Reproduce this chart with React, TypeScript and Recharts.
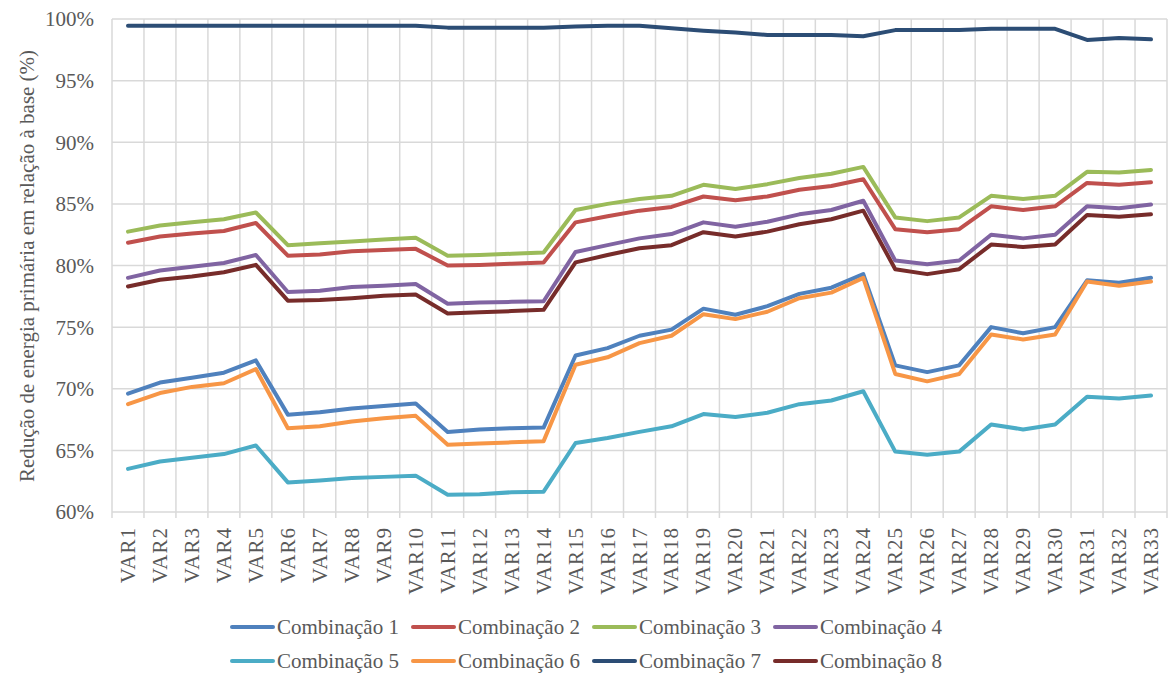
import React from 'react';
import { LineChart, Line, XAxis, YAxis, CartesianGrid, Legend } from 'recharts';

const categories = Array.from({ length: 33 }, (_, i) => `VAR${i + 1}`);

const comb1 = [69.6, 70.5, 70.9, 71.3, 72.3, 67.9, 68.1, 68.4, 68.6, 68.8, 66.5, 66.7, 66.8, 66.85, 72.7, 73.3, 74.3, 74.8, 76.5, 76.0, 76.7, 77.7, 78.2, 79.3, 71.9, 71.35, 71.9, 75.0, 74.5, 75.0, 78.8, 78.6, 79.0];
const comb2 = [81.85, 82.35, 82.6, 82.8, 83.45, 80.8, 80.9, 81.15, 81.25, 81.35, 80.0, 80.05, 80.15, 80.25, 83.5, 84.0, 84.45, 84.75, 85.6, 85.3, 85.6, 86.15, 86.45, 87.0, 82.95, 82.7, 82.95, 84.8, 84.5, 84.8, 86.7, 86.55, 86.75];
const comb3 = [82.75, 83.25, 83.5, 83.75, 84.3, 81.65, 81.8, 81.95, 82.1, 82.25, 80.8, 80.85, 80.95, 81.05, 84.5, 85.0, 85.4, 85.65, 86.55, 86.2, 86.6, 87.1, 87.45, 88.0, 83.9, 83.6, 83.9, 85.65, 85.4, 85.65, 87.6, 87.55, 87.75];
const comb4 = [79.0, 79.6, 79.9, 80.2, 80.85, 77.85, 77.95, 78.25, 78.35, 78.5, 76.9, 77.0, 77.05, 77.1, 81.1, 81.65, 82.2, 82.55, 83.5, 83.15, 83.55, 84.15, 84.5, 85.25, 80.4, 80.1, 80.4, 82.5, 82.2, 82.5, 84.8, 84.65, 84.95];
const comb5 = [63.5, 64.1, 64.4, 64.7, 65.4, 62.4, 62.55, 62.75, 62.85, 62.95, 61.4, 61.45, 61.6, 61.65, 65.6, 66.0, 66.5, 66.95, 67.95, 67.7, 68.05, 68.75, 69.05, 69.8, 64.9, 64.65, 64.9, 67.1, 66.7, 67.1, 69.35, 69.2, 69.45];
const comb6 = [68.75, 69.65, 70.15, 70.45, 71.6, 66.8, 66.95, 67.35, 67.6, 67.8, 65.45, 65.55, 65.65, 65.75, 71.95, 72.55, 73.7, 74.3, 76.05, 75.65, 76.25, 77.35, 77.8, 79.0, 71.2, 70.6, 71.2, 74.4, 74.0, 74.4, 78.7, 78.35, 78.7];
const comb7 = [99.45, 99.45, 99.45, 99.45, 99.45, 99.45, 99.45, 99.45, 99.45, 99.45, 99.3, 99.3, 99.3, 99.3, 99.4, 99.45, 99.45, 99.25, 99.05, 98.9, 98.7, 98.7, 98.7, 98.6, 99.1, 99.1, 99.1, 99.2, 99.2, 99.2, 98.3, 98.45, 98.35];
const comb8 = [78.3, 78.85, 79.1, 79.45, 80.05, 77.15, 77.2, 77.35, 77.55, 77.65, 76.1, 76.2, 76.3, 76.4, 80.25, 80.85, 81.4, 81.65, 82.7, 82.35, 82.75, 83.35, 83.75, 84.45, 79.7, 79.3, 79.7, 81.7, 81.5, 81.7, 84.1, 83.95, 84.15];

const yTicks = [60, 65, 70, 75, 80, 85, 90, 95, 100];

const series = [
  { key: 'c1', name: 'Combinação 1', values: comb1, color: '#4F81BD' },
  { key: 'c2', name: 'Combinação 2', values: comb2, color: '#C0504D' },
  { key: 'c3', name: 'Combinação 3', values: comb3, color: '#9BBB59' },
  { key: 'c4', name: 'Combinação 4', values: comb4, color: '#8064A2' },
  { key: 'c5', name: 'Combinação 5', values: comb5, color: '#4BACC6' },
  { key: 'c6', name: 'Combinação 6', values: comb6, color: '#F79646' },
  { key: 'c7', name: 'Combinação 7', values: comb7, color: '#2C4D75' },
  { key: 'c8', name: 'Combinação 8', values: comb8, color: '#772C2A' },
];

const data = categories.map((cat, i) => {
  const row: Record<string, string | number> = { name: cat };
  series.forEach((s) => {
    row[s.key] = s.values[i];
  });
  return row;
});

const FONT = "'Liberation Serif', 'DejaVu Serif', serif";
const TEXT = '#595959';
const GRID = '#D9D9D9';
const HALF_BAND = 16;

// category labels are rotated, tick marks sit on the band edges like Excel
const XTick = (props: any) => {
  const { x, y, payload, index } = props;
  return (
    <g>
      <line x1={x - HALF_BAND} x2={x - HALF_BAND} y1={y - 8} y2={y - 2} stroke={GRID} strokeWidth={1.5} />
      {index === categories.length - 1 && (
        <line x1={x + HALF_BAND} x2={x + HALF_BAND} y1={y - 8} y2={y - 2} stroke={GRID} strokeWidth={1.5} />
      )}
      <text
        transform={`translate(${x},${y + 7}) rotate(-90)`}
        textAnchor="end"
        dominantBaseline="central"
        style={{ fontFamily: FONT, fontSize: 21, letterSpacing: 1 }}
        fill={TEXT}
      >
        {payload.value}
      </text>
    </g>
  );
};

const LegendBox = () => (
  <div
    style={{
      display: 'grid',
      gridTemplateColumns: 'repeat(4, 181px)',
      marginLeft: 230,
      fontFamily: FONT,
      fontSize: 21,
      color: TEXT,
    }}
  >
    {series.map((s) => (
      <div key={s.key} style={{ display: 'flex', alignItems: 'center', height: 34, whiteSpace: 'nowrap' }}>
        <span style={{ display: 'inline-block', width: 45, height: 4, borderRadius: 2, background: s.color, marginRight: 2 }} />
        <span>{s.name}</span>
      </div>
    ))}
  </div>
);

export default function App() {
  return (
    <div style={{ width: 1169, height: 675, background: '#fff' }}>
      <style>{'body{margin:0}'}</style>
      <LineChart width={1169} height={675} data={data} margin={{ top: 19, right: 2, left: 0, bottom: 0 }}>
        <CartesianGrid
          stroke={GRID}
          strokeWidth={1.5}
          verticalCoordinatesGenerator={({ offset }: any) =>
            Array.from({ length: categories.length + 1 }, (_, i) => offset.left + (i * offset.width) / categories.length)
          }
        />
        <XAxis
          dataKey="name"
          interval={0}
          axisLine={false}
          tickLine={false}
          height={95}
          padding={{ left: HALF_BAND, right: HALF_BAND }}
          tick={<XTick />}
        />
        <YAxis
          domain={[60, 100]}
          ticks={yTicks}
          width={112}
          axisLine={false}
          tickLine={false}
          tickSize={0}
          tickMargin={18}
          tickFormatter={(v: number) => `${v}%`}
          tick={{ fontSize: 21, fill: TEXT, style: { fontFamily: FONT } }}
          label={{
            content: () => (
              <text
                x={27}
                y={266}
                transform="rotate(-90 27 266)"
                textAnchor="middle"
                dominantBaseline="central"
                style={{ fontFamily: FONT, fontSize: 21 }}
                fill={TEXT}
              >
                Redução de energia primária em relação à base (%)
              </text>
            ),
          }}
        />
        {series.map((s) => (
          <Line
            key={s.key}
            type="linear"
            dataKey={s.key}
            name={s.name}
            stroke={s.color}
            strokeWidth={4}
            strokeLinejoin="round"
            strokeLinecap="round"
            dot={false}
            activeDot={false}
            isAnimationActive={false}
          />
        ))}
        <Legend content={<LegendBox />} wrapperStyle={{ left: 0, top: 610, width: 1169 }} />
      </LineChart>
    </div>
  );
}
